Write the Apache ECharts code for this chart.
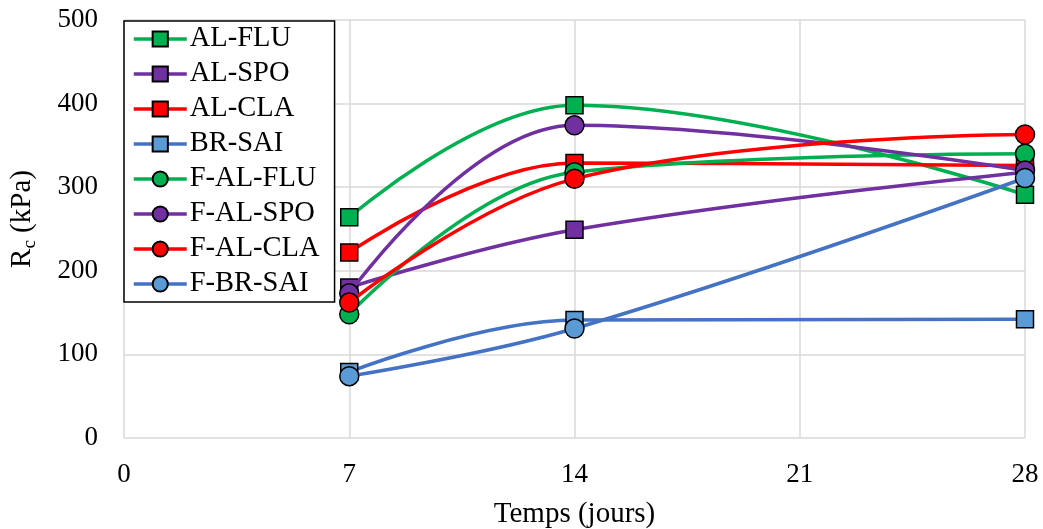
<!DOCTYPE html>
<html>
<head>
<meta charset="utf-8">
<script src="https://cdn.jsdelivr.net/npm/echarts@6/dist/echarts.min.js"></script>
<style>
html,body{margin:0;padding:0;background:#fff;}
#chart{width:1043px;height:529px;}
</style>
</head>
<body>
<div id="chart"></div>
<script>
const days = [7, 14, 28];
const xTicks = [0, 7, 14, 21, 28];
const seriesNames = ['AL-FLU','AL-SPO','AL-CLA','BR-SAI','F-AL-FLU','F-AL-SPO','F-AL-CLA','F-BR-SAI'];
const AL_FLU   = [264, 398, 291];
const AL_SPO   = [180, 249, 318];
const AL_CLA   = [222, 329, 326];
const BR_SAI   = [79, 141, 142];
const F_AL_FLU = [148, 318, 340];
const F_AL_SPO = [173, 374, 320];
const F_AL_CLA = [162, 310, 363];
const F_BR_SAI = [74, 131, 311];
const values = [AL_FLU, AL_SPO, AL_CLA, BR_SAI, F_AL_FLU, F_AL_SPO, F_AL_CLA, F_BR_SAI];
const lineColors = ['#00B050','#7030A0','#FF0000','#4472C4','#00B050','#7030A0','#FF0000','#4472C4'];
const fillColors = ['#00B050','#7030A0','#FF0000','#5B9BD5','#00B050','#7030A0','#FF0000','#5B9BD5'];
const symbols = ['rect','rect','rect','rect','circle','circle','circle','circle'];

const font = 'Liberation Serif';
const series = seriesNames.map((n, i) => ({
  name: n,
  type: 'line',
  smooth: 0.4,
  data: days.map((d, j) => [d, values[i][j]]),
  symbol: symbols[i],
  symbolSize: symbols[i] === 'rect' ? 17 : 19,
  lineStyle: {color: lineColors[i], width: 3.5},
  itemStyle: {color: fillColors[i], borderColor: '#000', borderWidth: 1.5},
  color: lineColors[i],
  emphasis: {disabled: true},
  z: 2 + i
}));

const chart = echarts.init(document.getElementById('chart'), null, {renderer: 'canvas'});
chart.setOption({
  animation: false,
  backgroundColor: '#fff',
  textStyle: {fontFamily: font, color: '#000'},
  grid: {left: 124, right: 18, top: 20, bottom: 91, outerBoundsMode: 'none', containLabel: false},
  legend: {
    orient: 'vertical',
    left: 124, top: 21,
    padding: [2, 15, 2, 8],
    itemWidth: 53, itemHeight: 19, itemGap: 3,
    backgroundColor: '#fff',
    borderColor: '#000', borderWidth: 1.5, borderRadius: 0,
    lineStyle: {width: 3.5},
    textStyle: {fontFamily: font, fontSize: 28.5, color: '#000', padding: [0,0,0,-2], lineHeight: 32},
    data: seriesNames,
    z: 20
  },
  xAxis: {
    type: 'value', min: 0, max: 28, interval: 7,
    name: 'Temps (jours)', nameLocation: 'middle', nameGap: 62,
    nameTextStyle: {fontFamily: font, fontSize: 29, color: '#000'},
    axisLine: {show: false}, axisTick: {show: false},
    axisLabel: {fontFamily: font, fontSize: 27, color: '#000', margin: 23,
      formatter: v => xTicks.includes(v) ? String(v) : ''},
    splitLine: {show: true, lineStyle: {color: '#D9D9D9', width: 1.5}}
  },
  yAxis: {
    type: 'value', min: 0, max: 500, interval: 100,
    name: '{a|R}{s|c}{a| (kPa)}', nameLocation: 'middle', nameGap: 84,
    nameTextStyle: {fontFamily: font, color: '#000', padding: [0, 0, 0, 20],
      rich: {
        a: {fontFamily: font, fontSize: 29, color: '#000', lineHeight: 36, verticalAlign: 'middle'},
        s: {fontFamily: font, fontSize: 19, color: '#000', lineHeight: 36, verticalAlign: 'bottom', padding: [10,0,0,0]}
      }},
    axisLine: {show: false}, axisTick: {show: false},
    axisLabel: {fontFamily: font, fontSize: 27, color: '#000', margin: 26},
    splitLine: {show: true, lineStyle: {color: '#D9D9D9', width: 1.5}}
  },
  series: series
});
</script>
</body>
</html>
